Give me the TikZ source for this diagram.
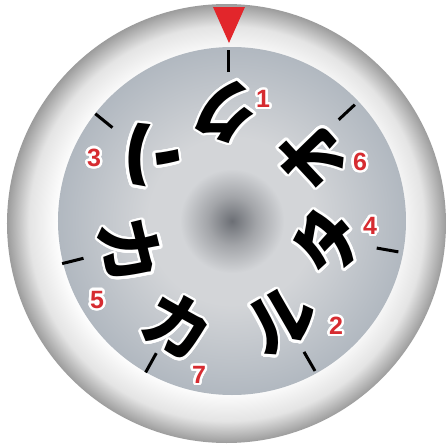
\documentclass[tikz,border=0pt]{standalone}
\usepackage{fontspec}
\setsansfont{Liberation Sans}
\newfontfamily\jpfont{Noto Sans CJK JP}
\usepackage[copies]{contour}
\contourlength{2.4pt}
\contournumber{32}

\definecolor{rimmid}{HTML}{E4E4E4}
\definecolor{rimedge}{HTML}{9C9C9C}
\definecolor{hubdark}{HTML}{6C6F75}
\definecolor{hubsoft}{HTML}{A3A5A9}
\definecolor{dialmid}{HTML}{D3D5D8}
\definecolor{dialedge}{HTML}{B1B8C0}
\definecolor{markred}{HTML}{E2262B}
\definecolor{numred}{HTML}{D62B30}

\pgfdeclareradialshading{rim}{\pgfpoint{0bp}{0bp}}{%
  color(0bp)=(white); color(19bp)=(white); color(22.5bp)=(rimmid);
  color(25bp)=(rimedge); color(50bp)=(rimedge)}
\pgfdeclareradialshading{dial}{\pgfpoint{0bp}{0bp}}{%
  color(0bp)=(hubdark); color(3.5bp)=(hubsoft); color(7.5bp)=(dialmid);
  color(12bp)=(dialmid); color(25bp)=(dialedge); color(50bp)=(dialedge)}

\begin{document}
\begin{tikzpicture}[
    x=1pt, y=1pt,
    kana/.style={font=\jpfont\bfseries\fontsize{68}{68}\selectfont, inner sep=0pt},
    num/.style={font=\sffamily\bfseries\fontsize{25}{25}\selectfont,
                text=numred, inner sep=0pt},
    dialtick/.style={line width=3pt},
]

    \fill[white] (-229,-226) rectangle (219,222);
    \useasboundingbox (-229,-226) rectangle (219,222);

    \shade[shading=rim] (-2.5,-1.5) circle (219.5);
    \shade[shading=dial] (3,1) circle (174);

    \foreach \a in {90,43,-10,-60,-119,-166,141}
        \draw[dialtick] (\a:150) -- (\a:172);

    \fill[markred] (-16,215) -- (16,215) -- (0,179) -- cycle;

    \node[kana, rotate=180] (ku) at (-5,111) {\contour{white}{ク}};
    \node[kana, rotate=133] (o) at (83,67) {\contour{white}{オ}};
    \node[kana, rotate=80] (ta) at (98,-19) {\contour{white}{タ}};
    \node[kana, rotate=30] (ru) at (53,-99) {\contour{white}{ル}};
    \node[kana, rotate=-29] (kaa) at (-52,-105) {\contour{white}{カ}};
    \node[kana, rotate=-76] (kab) at (-99,-29) {\contour{white}{カ}};
    \node[kana, rotate=-129] (n) at (-83,66) {\contour{white}{ン}};

    \node[num] (n1) at (34,122) {\contour{white}{1}};
    \node[num] (n6) at (131,59) {\contour{white}{6}};
    \node[num] (n4) at (141,-5) {\contour{white}{4}};
    \node[num] (n2) at (107,-105) {\contour{white}{2}};
    \node[num] (n7) at (-30,-154) {\contour{white}{7}};
    \node[num] (n5) at (-132,-79) {\contour{white}{5}};
    \node[num] (n3) at (-135,63) {\contour{white}{3}};

\end{tikzpicture}
\end{document}
